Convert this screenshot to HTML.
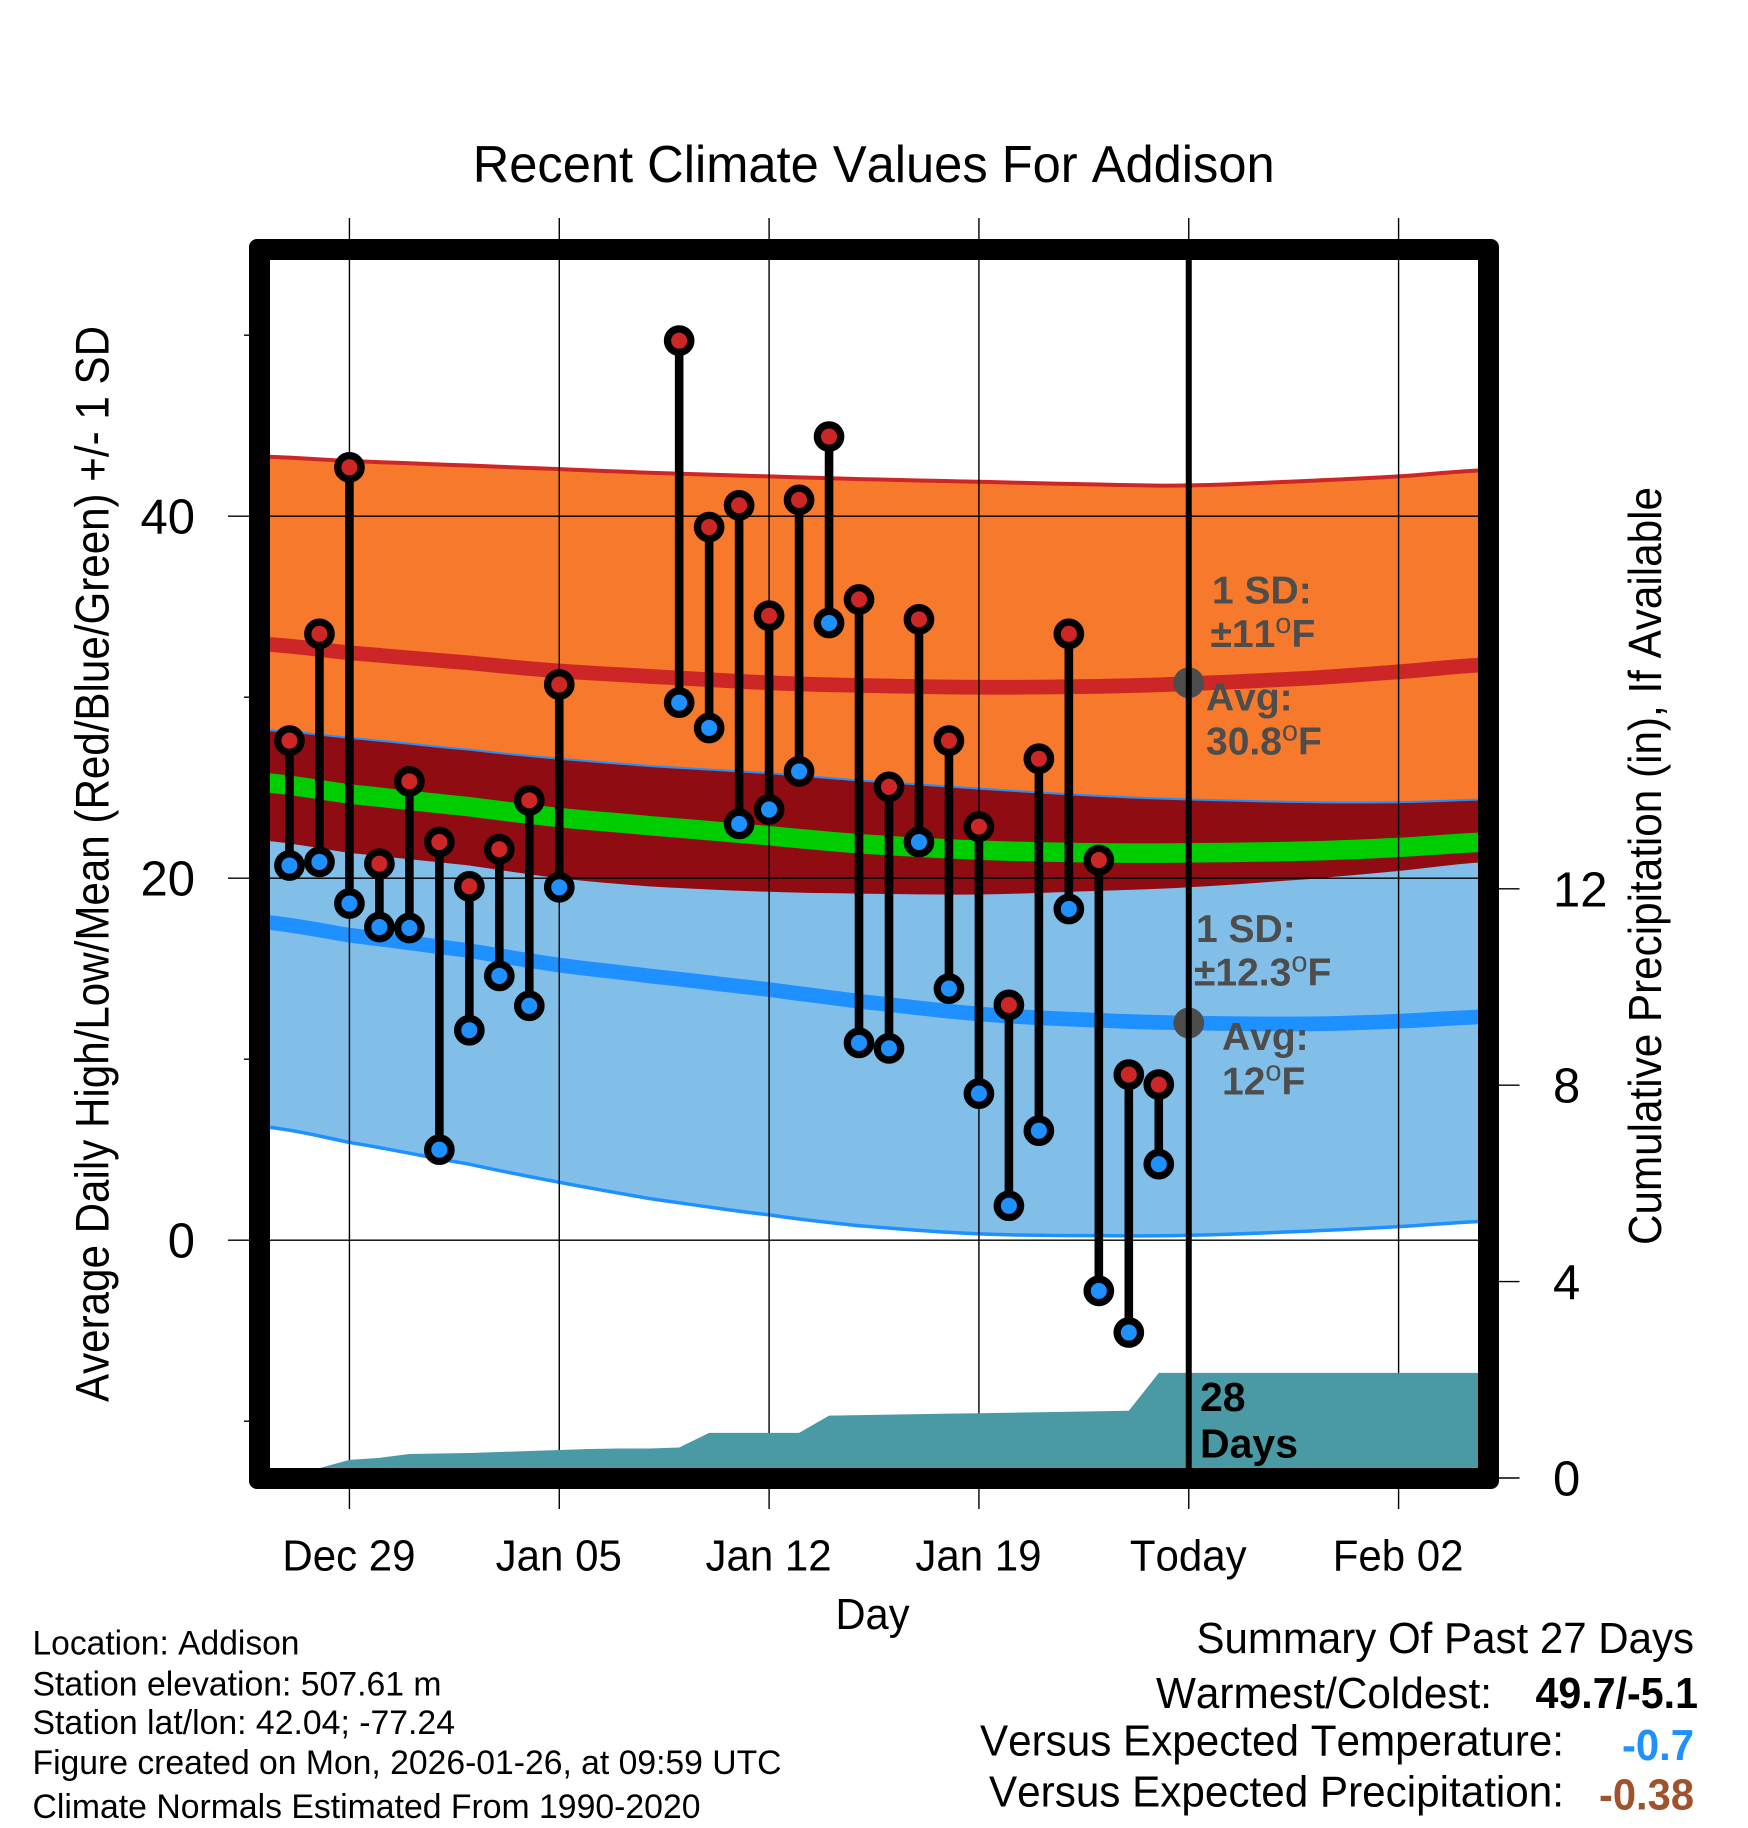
<!DOCTYPE html>
<html lang="en">
<head>
<meta charset="utf-8">
<title>Recent Climate Values For Addison</title>
<style>
html,body{margin:0;padding:0;background:#fff;}
svg{display:block;font-family:"Liberation Sans",Arial,sans-serif;font-kerning:none;}
.note{font-weight:bold;font-size:39px;fill:#4d4d4d;}
.deg{font-weight:normal;font-size:29px;}
.info{font-size:34.5px;fill:#000;}
.sum{font-size:43.5px;fill:#000;}
.val{font-size:43.5px;font-weight:bold;}
</style>
</head>
<body>
<svg id="chart" xmlns="http://www.w3.org/2000/svg" width="1748" height="1828" viewBox="0 0 1748 1828">
  <rect x="0" y="0" width="1748" height="1828" fill="#ffffff"/>
  <text x="472.7" y="182" font-size="52" textLength="802" lengthAdjust="spacingAndGlyphs">Recent Climate Values For Addison</text>
  <text transform="translate(108.5,1402) rotate(-90)" font-size="47" textLength="1076" lengthAdjust="spacingAndGlyphs">Average Daily High/Low/Mean (Red/Blue/Green) +/- 1 SD</text>
  <text transform="translate(1661,1245) rotate(-90)" font-size="46" textLength="758" lengthAdjust="spacingAndGlyphs">Cumulative Precipitation (in), If Available</text>
  <text x="835.5" y="1629" font-size="44" textLength="74" lengthAdjust="spacingAndGlyphs">Day</text>

  <g id="bands"></g>
  <g id="grid"></g>
  <g id="precip"></g>
  <g id="avgDots"></g>
  <g id="today"></g>
  <g id="obs"></g>

  <g>
    <text class="note" x="1212" y="603.5">1 SD:</text>
    <text class="note" x="1210.5" y="647">±11<tspan class="deg" dy="-14">o</tspan><tspan dy="14">F</tspan></text>
    <text class="note" x="1206" y="710.5">Avg:</text>
    <text class="note" x="1206" y="754.5">30.8<tspan class="deg" dy="-14">o</tspan><tspan dy="14">F</tspan></text>
  </g>
  <g>
    <text class="note" x="1196" y="942">1 SD:</text>
    <text class="note" x="1194" y="985.5">±12.3<tspan class="deg" dy="-14">o</tspan><tspan dy="14">F</tspan></text>
    <text class="note" x="1222" y="1050">Avg:</text>
    <text class="note" x="1222" y="1094.5">12<tspan class="deg" dy="-14">o</tspan><tspan dy="14">F</tspan></text>
  </g>
  <text x="1200" y="1411" font-size="41" font-weight="bold">28</text>
  <text x="1200" y="1457.5" font-size="41" font-weight="bold">Days</text>

  <path fill="#000" fill-rule="evenodd" d="M257 239 H1491 A8 8 0 0 1 1499 247 V1481 A8 8 0 0 1 1491 1489 H257 A8 8 0 0 1 249 1481 V247 A8 8 0 0 1 257 239 Z M270 260 V1468 H1478 V260 Z"/>

  <g id="ticks"></g>

  <g>
    <text class="info" x="32.5" y="1654.5" textLength="267" lengthAdjust="spacingAndGlyphs">Location: Addison</text>
    <text class="info" x="32.5" y="1695.5" textLength="409" lengthAdjust="spacingAndGlyphs">Station elevation: 507.61 m</text>
    <text class="info" x="32.5" y="1734" textLength="422.5" lengthAdjust="spacingAndGlyphs">Station lat/lon: 42.04; -77.24</text>
    <text class="info" x="32.5" y="1774" textLength="749" lengthAdjust="spacingAndGlyphs">Figure created on Mon, 2026-01-26, at 09:59 UTC</text>
    <text class="info" x="32.5" y="1818" textLength="668" lengthAdjust="spacingAndGlyphs">Climate Normals Estimated From 1990-2020</text>
  </g>
  <g>
    <text class="sum" x="1196.5" y="1653" textLength="497.5" lengthAdjust="spacingAndGlyphs">Summary Of Past 27 Days</text>
    <text class="sum" x="1156" y="1708" textLength="336" lengthAdjust="spacingAndGlyphs">Warmest/Coldest:</text>
    <text class="val" x="1535.5" y="1708" fill="#000" textLength="162.5" lengthAdjust="spacingAndGlyphs">49.7/-5.1</text>
    <text class="sum" x="980" y="1755.5" textLength="584" lengthAdjust="spacingAndGlyphs">Versus Expected Temperature:</text>
    <text class="val" x="1622" y="1760" fill="#1e90ff" textLength="72" lengthAdjust="spacingAndGlyphs">-0.7</text>
    <text class="sum" x="989" y="1806.5" textLength="575" lengthAdjust="spacingAndGlyphs">Versus Expected Precipitation:</text>
    <text class="val" x="1599" y="1809.5" fill="#a0522d" textLength="95" lengthAdjust="spacingAndGlyphs">-0.38</text>
  </g>
</svg>
<script>
const xTickDays = [0, 7, 14, 21, 28, 35];
const xTickLabels = ['Dec 29', 'Jan 05', 'Jan 12', 'Jan 19', 'Today', 'Feb 02'];
const yMajorTicks = [0, 20, 40];
const yMinorTicks = [-10, 10, 30, 50];
const precipTicks = [0, 4, 8, 12];
const todayDay = 28;
const todayAverages = [30.8, 12];

const obsDays = [-2, -1, 0, 1, 2, 3, 4, 5, 6, 7, 11, 12, 13, 14, 15, 16, 17, 18, 19, 20, 21, 22, 23, 24, 25, 26, 27];
const obsHigh = [27.6, 33.5, 42.7, 20.8, 25.35, 22.0, 19.55, 21.6, 24.3, 30.7, 49.7, 39.4, 40.6, 34.5, 40.9, 44.4, 35.4, 25.05, 34.3, 27.6, 22.85, 13.0, 26.6, 33.5, 21.0, 9.15, 8.6];
const obsLow = [20.7, 20.9, 18.6, 17.3, 17.25, 5.0, 11.6, 14.6, 12.95, 19.5, 29.7, 28.3, 23.0, 23.8, 25.9, 34.1, 10.9, 10.6, 22.0, 13.9, 8.1, 1.9, 6.05, 18.3, -2.8, -5.1, 4.2];

const normalDays = [-3, 0, 4, 7, 10, 14, 17, 21, 25, 28, 32, 35, 38];
const highPlusSd = [43.3, 43.05, 42.8, 42.6, 42.4, 42.2, 42.05, 41.9, 41.75, 41.7, 41.95, 42.2, 42.55];
const highMean = [32.95, 32.45, 31.9, 31.45, 31.15, 30.8, 30.65, 30.55, 30.6, 30.75, 31.05, 31.4, 31.8];
const highMinusSd = [22.1, 21.4, 20.7, 20.0, 19.55, 19.25, 19.15, 19.1, 19.3, 19.5, 19.95, 20.4, 20.9];
const lowPlusSd = [28.2, 27.75, 27.1, 26.6, 26.2, 25.8, 25.4, 24.95, 24.55, 24.35, 24.2, 24.2, 24.35];
const lowMean = [17.6, 16.85, 16.0, 15.2, 14.6, 13.85, 13.2, 12.5, 12.15, 12.0, 11.95, 12.1, 12.35];
const lowMinusSd = [6.3, 5.4, 4.2, 3.2, 2.3, 1.4, 0.8, 0.35, 0.25, 0.27, 0.5, 0.75, 1.05];
const overallMean = [25.3, 24.65, 23.95, 23.35, 22.9, 22.35, 21.9, 21.55, 21.4, 21.4, 21.5, 21.7, 22.0];

const precipDays = [-3, -2, -1, 0, 1, 2, 3, 4, 5, 6, 7, 8, 9, 10, 11, 12, 13, 14, 15, 16, 17, 18, 19, 20, 21, 22, 23, 24, 25, 26, 27, 38];
const precipTotals = [0, 0, 0.2, 0.37, 0.41, 0.49, 0.50, 0.51, 0.53, 0.55, 0.57, 0.59, 0.60, 0.60, 0.62, 0.92, 0.92, 0.92, 0.92, 1.27, 1.28, 1.29, 1.30, 1.31, 1.32, 1.33, 1.34, 1.35, 1.36, 1.37, 2.14, 2.14];

const NS = 'http://www.w3.org/2000/svg';
function xScale(d) { return 259.5 + (d + 3) * 29.976; }
function yScale(v) { return 1240.2 - 18.1 * v; }
function pScale(p) { return 1478 - 49.1 * p; }
function make(parent, tag, attrs) {
  const el = document.createElementNS(NS, tag);
  for (const k in attrs) el.setAttribute(k, attrs[k]);
  parent.appendChild(el);
  return el;
}
/* smooth curve through the read values (Catmull-Rom on the value axis) */
function linePts(days, vals) {
  const out = [];
  const n = days.length;
  for (let i = 0; i < n - 1; i++) {
    const p0 = vals[Math.max(i - 1, 0)], p1 = vals[i], p2 = vals[i + 1], p3 = vals[Math.min(i + 2, n - 1)];
    for (let s = 0; s < 6; s++) {
      const t = s / 6;
      const v = 0.5 * (2 * p1 + (p2 - p0) * t + (2 * p0 - 5 * p1 + 4 * p2 - p3) * t * t + (3 * p1 - p0 - 3 * p2 + p3) * t * t * t);
      out.push(xScale(days[i] + (days[i + 1] - days[i]) * t).toFixed(2) + ',' + yScale(v).toFixed(2));
    }
  }
  out.push(xScale(days[n - 1]).toFixed(2) + ',' + yScale(vals[n - 1]).toFixed(2));
  return out;
}
function bandPts(days, top, bottom) {
  return linePts(days, top).concat(linePts(days, bottom).reverse()).join(' ');
}

const bands = document.getElementById('bands');
let el;
el = make(bands, 'polygon', { points: bandPts(normalDays, highPlusSd, highMinusSd), fill: '#f6792c' });


el = make(bands, 'polygon', { points: bandPts(normalDays, lowPlusSd, lowMinusSd), fill: '#82bfe8' });


el = make(bands, 'polygon', { points: bandPts(normalDays, lowPlusSd, highMinusSd), fill: '#8f0c12' });


el = make(bands, 'polyline', { points: linePts(normalDays, highPlusSd).join(' '), fill: 'none', stroke: '#cd2626', 'stroke-width': 4 });


el = make(bands, 'polyline', { points: linePts(normalDays, lowPlusSd).join(' '), fill: 'none', stroke: '#1e90ff', 'stroke-width': 2 });


el = make(bands, 'polyline', { points: linePts(normalDays, lowMinusSd).join(' '), fill: 'none', stroke: '#1e90ff', 'stroke-width': 3.5 });


el = make(bands, 'polyline', { points: linePts(normalDays, highMean).join(' '), fill: 'none', stroke: '#cd2626', 'stroke-width': 14.7 });


el = make(bands, 'polyline', { points: linePts(normalDays, lowMean).join(' '), fill: 'none', stroke: '#1e90ff', 'stroke-width': 14.7 });


el = make(bands, 'polyline', { points: linePts(normalDays, overallMean).join(' '), fill: 'none', stroke: '#00cd00', 'stroke-width': 19.5 });



const grid = document.getElementById('grid');
xTickDays.forEach(function (d, i) {
  const line = make(grid, 'line', { x1: xScale(d), x2: xScale(d), y1: 218, y2: 1509, stroke: '#000', 'stroke-width': 1.4 });
  
  
  const label = make(grid, 'text', { x: xScale(d) - 0.5, y: 1570.5, 'font-size': 44, 'text-anchor': 'middle', lengthAdjust: 'spacingAndGlyphs' });
  label.textContent = xTickLabels[i];
  label.setAttribute('textLength', (label.getComputedTextLength() * 0.955).toFixed(1));
  
  
});
yMajorTicks.forEach(function (v) {
  const line = make(grid, 'line', { x1: 228, x2: 1480, y1: yScale(v), y2: yScale(v), stroke: '#000', 'stroke-width': 1.4 });
  
  
  const label = make(grid, 'text', { x: 195, y: yScale(v) + 17.5, 'font-size': 49, 'text-anchor': 'end' });
  label.textContent = String(v);
  
  
});

const precip = document.getElementById('precip');
const precipPoints = precipDays.map(function (d, i) { return xScale(d).toFixed(2) + ',' + pScale(precipTotals[i]).toFixed(2); });
precipPoints.push(xScale(38).toFixed(2) + ',' + pScale(0).toFixed(2));
precipPoints.push(xScale(-3).toFixed(2) + ',' + pScale(0).toFixed(2));
el = make(precip, 'polygon', { points: precipPoints.join(' '), fill: '#4a9aa5' });



const avgDots = document.getElementById('avgDots');
todayAverages.forEach(function (v) {
  const dot = make(avgDots, 'circle', { cx: xScale(todayDay), cy: yScale(v), r: 15.4, fill: '#4d4d4d' });
  
  
});

const today = document.getElementById('today');
el = make(today, 'line', { x1: xScale(todayDay), x2: xScale(todayDay), y1: 250, y2: 1478, stroke: '#000', 'stroke-width': 6 });



const obs = document.getElementById('obs');
obsDays.forEach(function (d, i) {
  const stem = make(obs, 'line', { x1: xScale(d), x2: xScale(d), y1: yScale(obsHigh[i]), y2: yScale(obsLow[i]), stroke: '#000', 'stroke-width': 8.6 });
  
  
});
obsDays.forEach(function (d, i) {
  const hi = make(obs, 'circle', { cx: xScale(d), cy: yScale(obsHigh[i]), r: 11.7, fill: '#cd2626', stroke: '#000', 'stroke-width': 7.3 });
  
  
  const lo = make(obs, 'circle', { cx: xScale(d), cy: yScale(obsLow[i]), r: 11.7, fill: '#1e90ff', stroke: '#000', 'stroke-width': 7.3 });
  
  
});

const ticks = document.getElementById('ticks');
yMinorTicks.forEach(function (v) {
  const line = make(ticks, 'line', { x1: 244, x2: 250, y1: yScale(v), y2: yScale(v), stroke: '#000', 'stroke-width': 1.4 });
  
  
});
precipTicks.forEach(function (p) {
  const line = make(ticks, 'line', { x1: 1498, x2: 1519.5, y1: pScale(p), y2: pScale(p), stroke: '#000', 'stroke-width': 1.4 });
  
  
  const label = make(ticks, 'text', { x: 1553, y: pScale(p) + 17.5, 'font-size': 49 });
  label.textContent = String(p);
  
  
});
</script>
</body>
</html>
